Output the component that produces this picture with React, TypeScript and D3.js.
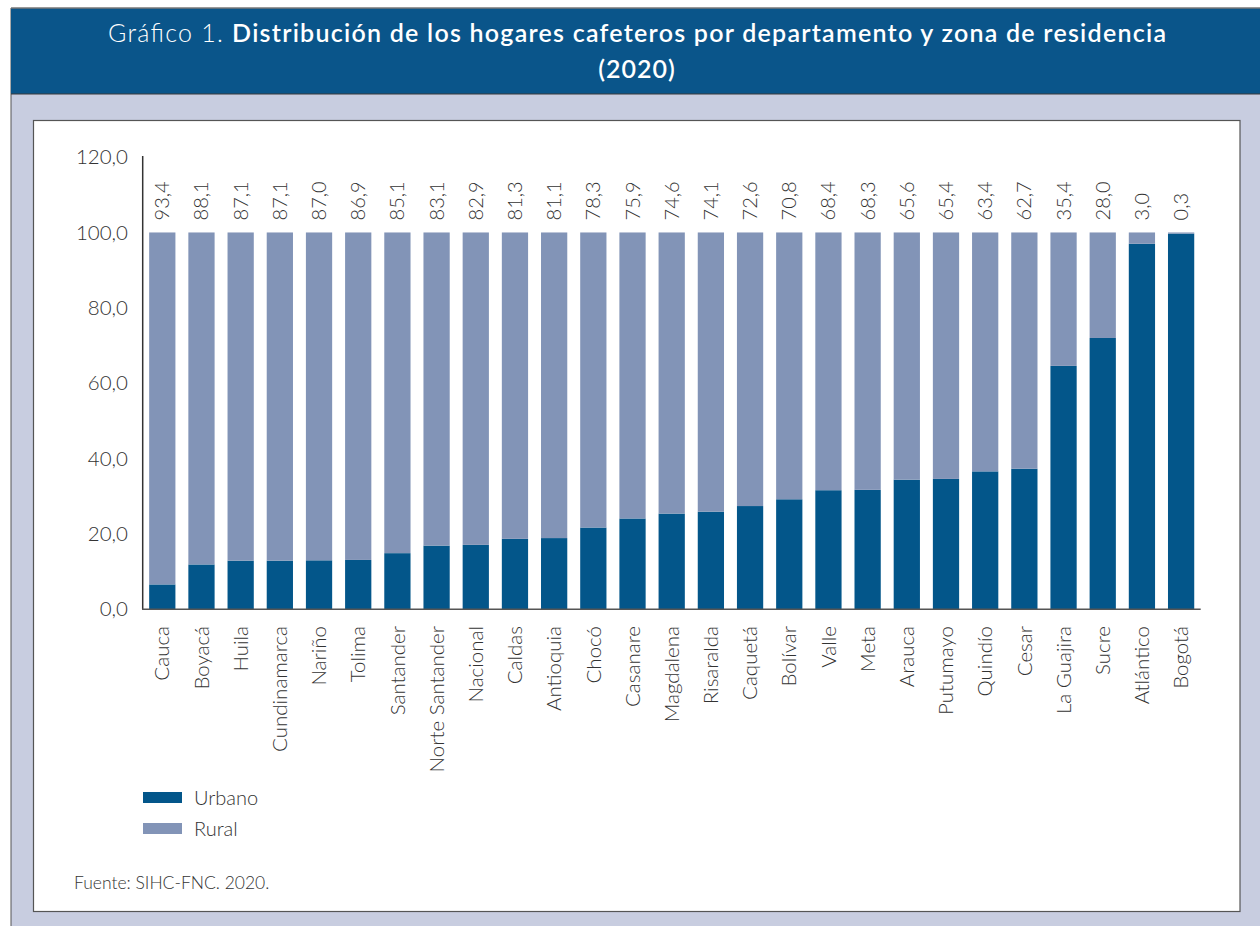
import React from "react";
import * as d3 from "d3";

const categories = ["Cauca","Boyacá","Huila","Cundinamarca","Nariño","Tolima","Santander","Norte Santander","Nacional","Caldas","Antioquia","Chocó","Casanare","Magdalena","Risaralda","Caquetá","Bolívar","Valle","Meta","Arauca","Putumayo","Quindío","Cesar","La Guajira","Sucre","Atlántico","Bogotá"];
const rural = [93.4,88.1,87.1,87.1,87.0,86.9,85.1,83.1,82.9,81.3,81.1,78.3,75.9,74.6,74.1,72.6,70.8,68.4,68.3,65.6,65.4,63.4,62.7,35.4,28.0,3.0,0.3];
const urbano = [6.6,11.9,12.9,12.9,13.0,13.1,14.9,16.9,17.1,18.7,18.9,21.7,24.1,25.4,25.9,27.4,29.2,31.6,31.7,34.4,34.6,36.6,37.3,64.6,72.0,97.0,99.7];
const yTicks = [0,20,40,60,80,100,120];
const seriesNames = ["Urbano","Rural"];

const W = 1260, H = 926;
const URB = "#03568a";
const RUR = "#8294b7";
const FONT = "Lato, 'Noto Sans', sans-serif";
const fmt = (v: number) => v.toFixed(1).replace(".", ",");

export default function App() {
  const x = d3.scaleBand<string>().domain(categories).range([142.7, 1200.7]).paddingInner(0.33).paddingOuter(0.165);
  const y = d3.scaleLinear().domain([0, 120]).range([609.3, 157.1]);
  return (
    <svg width={W} height={H} style={{ position: "absolute", left: 0, top: 0 }} fontFamily={FONT}>
      <rect x={0} y={0} width={W} height={H} fill="#ffffff" />
      {/* outer frame */}
      <rect x={11} y={94} width={W - 11} height={H - 94} fill="#c8cde0" />
      <line x1={11} y1={8} x2={11} y2={H} stroke="#555" strokeWidth={1} />
      <rect x={11} y={8} width={W - 11} height={86} fill="#0a558a" />
      <line x1={11} y1={8} x2={W} y2={8} stroke="#777" strokeWidth={1.5} />
      <line x1={11} y1={94} x2={W} y2={94} stroke="#3a3a3a" strokeWidth={1} />
      {/* title */}
      <text x={108} y={42} textAnchor="start" fill="#fff" fontSize={25} textLength={1058} lengthAdjust="spacing">
        <tspan fontWeight={300}>Gráfico 1. </tspan>
        <tspan fontWeight={600}>Distribución de los hogares cafeteros por departamento y zona de residencia</tspan>
      </text>
      <text x={637} y={78} textAnchor="middle" fill="#fff" fontSize={25} fontWeight={600} letterSpacing={1}>(2020)</text>
      {/* panel */}
      <rect x={33.5} y={120.5} width={1206.5} height={791} fill="#fff" stroke="#555" strokeWidth={1.2} />
      {/* y ticks */}
      {yTicks.map((t) => (
        <text key={t} x={128} y={y(t)} dy="0.35em" textAnchor="end" fontSize={20.5} fill="#333" fontWeight={300}>{fmt(t)}</text>
      ))}
      {/* bars */}
      {categories.map((c, i) => {
        const bx = x(c) as number;
        const bw = x.bandwidth();
        return (
          <g key={c}>
            <rect x={bx} y={y(urbano[i])} width={bw} height={y(0) - y(urbano[i])} fill={URB} />
            <rect x={bx} y={y(urbano[i] + rural[i])} width={bw} height={y(urbano[i]) - y(urbano[i] + rural[i])} fill={RUR} />
            <text transform={`translate(${bx + bw / 2},${y(100) - 12}) rotate(-90)`} dy="0.35em" textAnchor="start" fontSize={20} fill="#333" fontWeight={300}>{fmt(rural[i])}</text>
            <text transform={`translate(${bx + bw / 2},${626}) rotate(-90)`} dy="0.35em" textAnchor="end" fontSize={20.5} fill="#333" fontWeight={300}>{c}</text>
          </g>
        );
      })}
      {/* axes */}
      <line x1={142.7} y1={y(120) - 1} x2={142.7} y2={y(0)} stroke="#333" strokeWidth={1.5} />
      <line x1={142} y1={y(0)} x2={1200.7} y2={y(0)} stroke="#555" strokeWidth={1.5} />
      {/* legend */}
      {seriesNames.map((s, i) => (
        <g key={s}>
          <rect x={143} y={792 + i * 31} width={39} height={11} fill={i === 0 ? URB : RUR} />
          <text x={194} y={798 + i * 31} dy="0.35em" fontSize={20} fill="#333" fontWeight={300}>{s}</text>
        </g>
      ))}
      <text x={74} y={883} dy="0.35em" fontSize={17.5} fill="#333" fontWeight={300}>Fuente: SIHC-FNC. 2020.</text>
    </svg>
  );
}
